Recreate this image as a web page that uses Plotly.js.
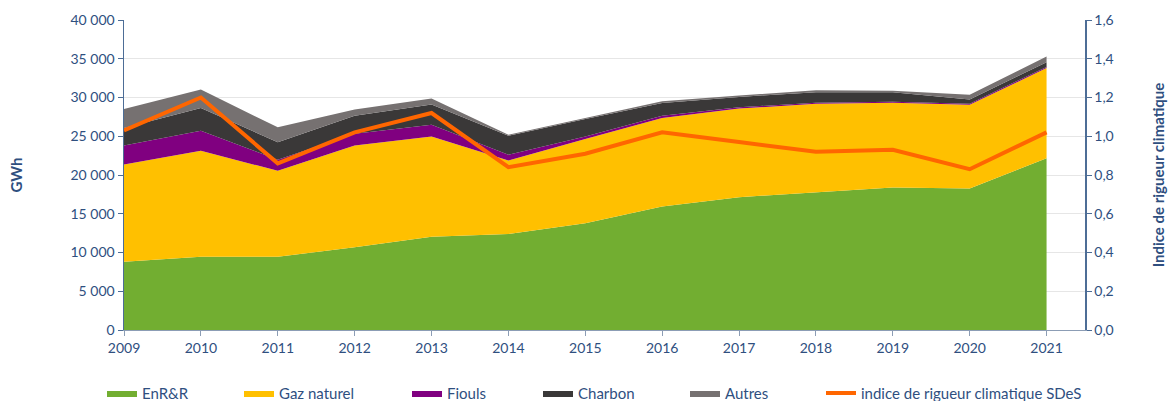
<!DOCTYPE html>
<html>
<head>
<meta charset="utf-8">
<script src="https://cdn.plot.ly/plotly-3.0.1.min.js"></script>
<style>html,body{margin:0;padding:0;background:#fff;}#chart{width:1168px;height:401px;}</style>
</head>
<body>
<div id="chart"></div>
<script>
const years = [2009, 2010, 2011, 2012, 2013, 2014, 2015, 2016, 2017, 2018, 2019, 2020, 2021];
const enrr = [8800, 9450, 9450, 10670, 12040, 12390, 13770, 15920, 17140, 17730, 18380, 18250, 22150];
const gaz = [12560, 13680, 11090, 13150, 12940, 9490, 10880, 11450, 11430, 11450, 10930, 10800, 11650];
const fiouls = [2460, 2590, 1430, 1510, 1520, 730, 330, 290, 170, 130, 130, 130, 150];
const charbon = [2250, 2940, 2240, 2330, 2590, 2460, 2250, 1640, 1340, 1370, 1240, 570, 600];
const autres = [2460, 2370, 1940, 780, 770, 130, 140, 220, 170, 260, 180, 590, 750];
const indice = [1.03, 1.20, 0.86, 1.02, 1.12, 0.84, 0.91, 1.02, 0.97, 0.92, 0.93, 0.83, 1.02];

const names = ['EnR&R', 'Gaz naturel', 'Fiouls', 'Charbon', 'Autres', 'indice de rigueur climatique SDeS'];
const colors = ['#72AE31', '#FFC000', '#800080', '#3A3838', '#767171', '#FF6600'];
const series = [enrr, gaz, fiouls, charbon, autres];
const legendIds = ['legend', 'legend2', 'legend3', 'legend4', 'legend5', 'legend6'];
const textX = [143, 280, 448, 579, 726, 862];

const traces = series.map((vals, i) => ({
  x: years, y: vals, name: names[i], type: 'scatter', mode: 'lines',
  stackgroup: 'one', line: {width: 0, color: colors[i]}, fillcolor: colors[i],
  legend: legendIds[i], hoverinfo: 'skip'
}));
traces.push({
  x: years, y: indice, name: names[5], type: 'scatter', mode: 'lines',
  yaxis: 'y2', line: {width: 4, color: colors[5]}, legend: legendIds[5], hoverinfo: 'skip'
});

const textColor = '#2F4F7F';
const font = {family: 'Lato, "Open Sans", sans-serif', size: 14, color: textColor};
const titleFont = {family: font.family, size: 15, color: textColor};
const L = 124, R = 1085, T = 20, B = 329.7;

const layout = {
  width: 1168, height: 401,
  margin: {l: L, r: 1168 - R, t: T, b: 401 - B, pad: 0, autoexpand: false},
  paper_bgcolor: '#fff', plot_bgcolor: '#fff',
  separators: ', ',
  font: font,
  showlegend: true,
  xaxis: {
    range: [2009, 2021.5], tickmode: 'array', tickvals: years, ticktext: years.map(String),
    showgrid: false, zeroline: false, showline: true, linecolor: '#8C9DB5', linewidth: 1,
    ticks: 'outside', ticklen: 5, tickcolor: '#8C9DB5', tickfont: font, automargin: false
  },
  yaxis: {
    range: [0, 40000], dtick: 5000, tickformat: ',d', automargin: false,
    showgrid: true, gridcolor: '#E6E6E6', zeroline: false,
    showline: true, linecolor: '#4D6D96', linewidth: 1.5,
    ticks: 'outside', ticklen: 5, tickcolor: '#4D6D96', tickfont: font,
    title: {text: '<b>GWh</b>', font: titleFont, standoff: 44}
  },
  yaxis2: {
    range: [0, 1.6], dtick: 0.2, tickformat: '.1f', overlaying: 'y', side: 'right', automargin: false,
    showgrid: false, zeroline: false, showline: true, linecolor: '#4D6D96', linewidth: 1.5,
    ticks: 'outside', ticklen: 5, tickcolor: '#4D6D96', tickfont: font,
    title: {text: '<b>Indice de rigueur climatique</b>', font: titleFont, standoff: 41}
  }
};

legendIds.forEach((id, i) => {
  layout[id] = {
    x: (textX[i] - 41 - L) / (R - L), xanchor: 'left',
    y: 1 - (393 - T) / (B - T), yanchor: 'middle',
    orientation: 'h', bgcolor: 'rgba(0,0,0,0)', borderwidth: 0,
    font: {family: font.family, size: 15, color: textColor}
  };
});

Plotly.newPlot('chart', traces, layout, {displayModeBar: false, staticPlot: true});
</script>
</body>
</html>
